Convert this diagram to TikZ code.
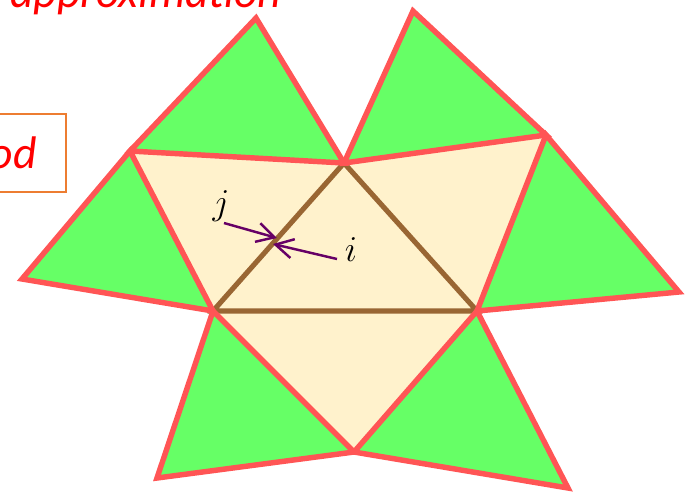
\documentclass[tikz,border=0pt]{standalone}
\usepackage{fontspec}
\newfontfamily\calibri{Carlito}
\usetikzlibrary{arrows.meta}
\definecolor{cream}{RGB}{255, 242, 204}
\definecolor{leaf}{RGB}{102, 255, 102}
\definecolor{edge}{RGB}{255, 85, 85}
\definecolor{rim}{RGB}{153, 102, 51}
\definecolor{plum}{RGB}{102, 0, 102}
\definecolor{boxorange}{RGB}{237, 125, 49}

\begin{document}
\begin{tikzpicture}[x=0.02cm, y=-0.02cm,
  face/.style={fill=leaf, draw=edge, line width=3.1pt},
  flux/.style={plum, line width=1.4pt, -{Straight Barb[length=10pt, width=11pt]}},
  caption/.style={font=\calibri\itshape\fontsize{26}{31}\selectfont, text=red, inner sep=0pt}]

  \useasboundingbox (0, 0) rectangle (692, 495);
  \clip (0, 0) rectangle (692, 495);

  % patch corners
  \coordinate (A) at (130, 151);
  \coordinate (B) at (344, 163);
  \coordinate (C) at (546, 135);
  \coordinate (D) at (213, 311);
  \coordinate (E) at (477, 311);
  \coordinate (F) at (354, 452);

  % outer tips of the neighbours
  \coordinate (tl) at (256, 18);
  \coordinate (tr) at (413, 11);
  \coordinate (lf) at (22, 279);
  \coordinate (rt) at (679, 292);
  \coordinate (bl) at (157, 478);
  \coordinate (br) at (568, 488);

  \fill[cream] (A) -- (B) -- (C) -- (E) -- (F) -- (D) -- cycle;

  \draw[rim, line width=2.9pt] (B) -- (D) -- (E) -- cycle;

  \draw[face] (A) -- (tl) -- (B) -- cycle;
  \draw[face] (B) -- (tr) -- (C) -- cycle;
  \draw[face] (A) -- (lf) -- (D) -- cycle;
  \draw[face] (C) -- (rt) -- (E) -- cycle;
  \draw[face] (D) -- (bl) -- (F) -- cycle;
  \draw[face] (E) -- (br) -- (F) -- cycle;

  % fluxes across the shared edge
  \node[font=\fontsize{20}{24}\selectfont] (j) at (221, 206) {$j$};
  \node[font=\fontsize{20}{24}\selectfont] (i) at (351, 250) {$i$};
  \coordinate (jtail) at (224, 223);
  \coordinate (jhead) at (277, 238);
  \coordinate (itail) at (337, 259);
  \coordinate (ihead) at (273, 244);
  \draw[flux] (jtail) -- (jhead);
  \draw[flux] (itail) -- (ihead);

  \node[caption, anchor=base west] (approx) at (10, 7) {approximation};

  \draw[boxorange, line width=1.1pt] (-20, 114) rectangle (66, 192);
  \node[caption, anchor=base east] (method) at (37, 168) {od};

\end{tikzpicture}
\end{document}
